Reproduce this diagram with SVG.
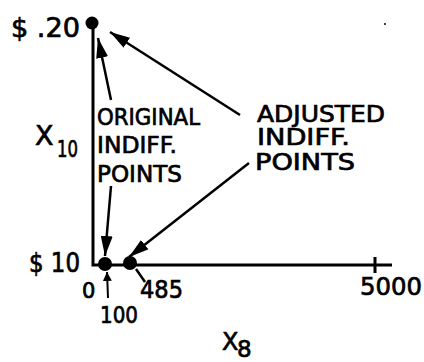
<svg xmlns="http://www.w3.org/2000/svg" width="424" height="362" viewBox="0 0 424 362">
<defs>
<marker id="ah" viewBox="0 0 20 12" refX="20" refY="6" markerWidth="20" markerHeight="12" markerUnits="userSpaceOnUse" orient="auto"><path d="M0,0 L20,6 L0,12 Z" fill="#000"/></marker>
<marker id="ahs" viewBox="0 0 10 10" refX="10" refY="5" markerWidth="9" markerHeight="10" markerUnits="userSpaceOnUse" orient="auto"><path d="M0,0 L10,5 L0,10 Z" fill="#000"/></marker>
</defs>
<style>
text{font-family:"DejaVu Sans","Liberation Sans",sans-serif;fill:#000;stroke:#000;stroke-width:0.7;}
.lbl{font-size:23px;}
.ax{fill:none;stroke:#000;stroke-width:3;}
.ar{fill:none;stroke:#000;stroke-width:2.5;marker-end:url(#ah);}
.dot{fill:#000;}
</style>
<rect width="424" height="362" fill="#fff"/>
<g id="axes">
<polyline class="ax" points="93,23 93,265 392,265"/>
<line class="ax" x1="375" y1="257" x2="375" y2="273" stroke-width="2.5"/>
</g>
<g id="axis-labels">
<text x="11" y="37" font-size="26" textLength="69" lengthAdjust="spacingAndGlyphs">$ .20</text>
<text x="29" y="272" font-size="26" textLength="51" lengthAdjust="spacingAndGlyphs">$ 10</text>
<text x="82" y="298" font-size="21">0</text>
<text x="100" y="323" font-size="23" textLength="38" lengthAdjust="spacingAndGlyphs">100</text>
<text x="140" y="298" font-size="24" textLength="43" lengthAdjust="spacingAndGlyphs">485</text>
<text x="360" y="295" font-size="24" textLength="62" lengthAdjust="spacingAndGlyphs">5000</text>
<text x="35" y="145" font-size="27">X</text>
<text x="57" y="157" font-size="23" textLength="21" lengthAdjust="spacingAndGlyphs">10</text>
<text x="222" y="350" font-size="24">X</text>
<text x="237" y="357" font-size="23">8</text>
</g>
<g id="points">
<circle class="dot" cx="92" cy="23" r="6.5"/>
<circle class="dot" cx="105" cy="264" r="7"/>
<circle class="dot" cx="130" cy="263" r="7"/>
<circle class="dot" cx="385" cy="24" r="1"/>
</g>
<g id="original">
<text class="lbl" x="97" y="125" textLength="103" lengthAdjust="spacingAndGlyphs">ORIGINAL</text>
<text class="lbl" x="97" y="153" textLength="80" lengthAdjust="spacingAndGlyphs">INDIFF.</text>
<text class="lbl" x="97" y="182" textLength="85" lengthAdjust="spacingAndGlyphs">POINTS</text>
</g>
<g id="adjusted">
<text class="lbl" x="257" y="122" textLength="128" lengthAdjust="spacingAndGlyphs">ADJUSTED</text>
<text class="lbl" x="257" y="145" textLength="93" lengthAdjust="spacingAndGlyphs">INDIFF.</text>
<text class="lbl" x="255" y="170" textLength="100" lengthAdjust="spacingAndGlyphs">POINTS</text>
</g>
<g id="connectors">
<line class="ar" x1="111" y1="100" x2="98" y2="38"/>
<line class="ar" x1="111" y1="186" x2="105" y2="256"/>
<line class="ar" x1="240" y1="115" x2="110" y2="32"/>
<line class="ar" x1="249" y1="163" x2="129" y2="257"/>
<line x1="108" y1="298" x2="107" y2="272" stroke="#000" stroke-width="2" marker-end="url(#ahs)"/>
<line x1="145" y1="282" x2="136" y2="269" stroke="#000" stroke-width="2.5"/>
</g>
</svg>
